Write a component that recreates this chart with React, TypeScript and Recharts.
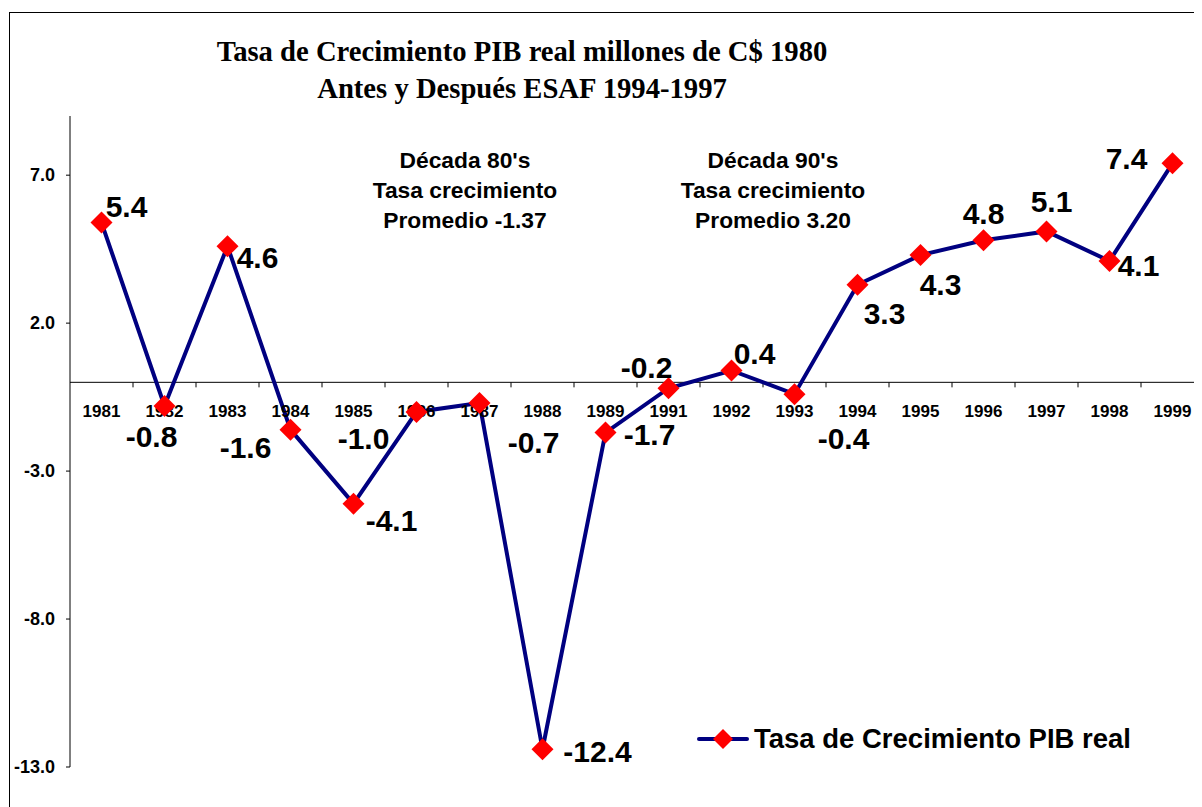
import React from 'react';
import { LineChart, Line, XAxis, YAxis, ReferenceLine, ReferenceDot, LabelList, Legend } from 'recharts';

const years = ['1981', '1982', '1983', '1984', '1985', '1986', '1987', '1988', '1989', '1991', '1992', '1993', '1994', '1995', '1996', '1997', '1998', '1999'];
const growth = [5.4, -0.8, 4.6, -1.6, -4.1, -1.0, -0.7, -12.4, -1.7, -0.2, 0.4, -0.4, 3.3, 4.3, 4.8, 5.1, 4.1, 7.4];
const yTicks = [-13, -8, -3, 2, 7];
const seriesName = 'Tasa de Crecimiento PIB real';
const titleLines = ['Tasa de Crecimiento PIB real millones de C$ 1980', 'Antes y Después ESAF 1994-1997'];
const note80 = ["Década 80's", 'Tasa crecimiento', 'Promedio -1.37'];
const note90 = ["Década 90's", 'Tasa crecimiento', 'Promedio 3.20'];

// label placement (style only): offset of each data label from its point
const labelOffsets: [number, number][] = [
  [25, -16], [-13, 31], [30, 11], [-45, 18], [38, 17], [-53, 27], [54, 39], [55, 2], [44, 2],
  [-22, -21], [23, -17], [49, 44], [27, 29], [20, 29], [0, -27], [5, -30], [29, 5], [-46, -5],
];

const data = years.map((year, i) => ({ idx: i, year, value: growth[i] }));

const SANS = '"Liberation Sans", Arial, sans-serif';
const SERIF = '"Liberation Serif", "Times New Roman", serif';

const diamondPath = (cx: number, cy: number, r: number) =>
  `M${cx},${cy - r}L${cx + r},${cy}L${cx},${cy + r}L${cx - r},${cy}Z`;

const renderDot = (props: any) => {
  const { cx, cy, index } = props;
  if (cx == null || cy == null) return <g key={`d${index}`} />;
  return <path key={`d${index}`} d={diamondPath(cx, cy, 11)} fill="#FF0000" />;
};

const DataLabel = (props: any) => {
  const { x, y, value, index } = props;
  const [dx, dy] = labelOffsets[index] || [0, 0];
  return (
    <text x={x + dx} y={y + dy} textAnchor="middle" dominantBaseline="central"
      fontFamily={SANS} fontWeight="bold" fontSize={30} fill="#000">
      {Number(value).toFixed(1)}
    </text>
  );
};

const YTick = (props: any) => {
  const { x, y, payload } = props;
  return (
    <text x={x} y={y} textAnchor="end" dominantBaseline="central"
      fontFamily={SANS} fontWeight="bold" fontSize={18} fill="#000">
      {Number(payload.value).toFixed(1)}
    </text>
  );
};

const LegendContent = () => (
  <div style={{ display: 'flex', alignItems: 'center', fontFamily: SANS, fontWeight: 'bold', fontSize: 27.5, color: '#000', whiteSpace: 'nowrap' }}>
    <svg width={54} height={26} style={{ display: 'block' }}>
      <line x1={3} y1={13} x2={51} y2={13} stroke="#000080" strokeWidth={4} strokeLinecap="round" />
      <path d={diamondPath(27, 13, 10)} fill="#FF0000" />
    </svg>
    <span style={{ marginLeft: 4, lineHeight: '34px' }}>{seriesName}</span>
  </div>
);

const NoteBlock = ({ lines, cx }: { lines: string[]; cx: number }) => (
  <div style={{ position: 'absolute', left: cx - 150, top: 137, width: 300, textAlign: 'center', fontFamily: SANS, fontWeight: 'bold', fontSize: 22.8, lineHeight: '30px', color: '#000' }}>
    {lines.map((l) => <div key={l}>{l}</div>)}
  </div>
);

export default function App() {
  return (
    <div style={{ position: 'relative', width: 1194, height: 799, overflow: 'hidden', background: '#fff' }}>
      <div style={{ position: 'absolute', left: 1, top: 4, width: 1400, height: 1000, border: '1px solid #000', pointerEvents: 'none' }} />
      <div style={{ position: 'absolute', left: 114, top: 24, width: 800, textAlign: 'center', fontFamily: SERIF, fontWeight: 'bold', fontSize: 30, lineHeight: '37px', color: '#000', transform: 'scaleX(0.955)', transformOrigin: '400px 0' }}>
        {titleLines.map((l) => <div key={l}>{l}</div>)}
      </div>
      <NoteBlock lines={note80} cx={457} />
      <NoteBlock lines={note90} cx={765} />
      <LineChart width={1200} height={799} data={data} margin={{ top: 108, right: 4, bottom: 40, left: 2 }}>
        <XAxis type="number" dataKey="idx" domain={[-0.5, 17.5]} hide allowDataOverflow />
        <YAxis
          domain={[-13, 9]}
          ticks={yTicks}
          interval={0}
          width={60}
          tickSize={4}
          tickMargin={11}
          axisLine={{ stroke: '#000', strokeWidth: 1 }}
          tickLine={{ stroke: '#000', strokeWidth: 1 }}
          tick={<YTick />}
          allowDataOverflow
        />
        <ReferenceLine y={0} stroke="#000" strokeWidth={1} ifOverflow="visible" />
        {years.map((yr, i) => (
          <ReferenceLine key={`t${yr}`} segment={[{ x: i + 0.5, y: 0 }, { x: i + 0.5, y: -0.17 }]} stroke="#000" strokeWidth={1} ifOverflow="visible" />
        ))}
        {years.map((yr, i) => (
          <ReferenceDot key={`y${yr}`} x={i} y={0} r={0} ifOverflow="visible"
            shape={(p: any) => (
              <text x={p.cx} y={p.cy + 29} textAnchor="middle" dominantBaseline="central"
                fontFamily={SANS} fontWeight="bold" fontSize={17} fill="#000">{yr}</text>
            )}
          />
        ))}
        <Legend
          verticalAlign="middle"
          layout="horizontal"
          content={<LegendContent />}
          wrapperStyle={{ position: 'absolute', left: 688, top: 714, width: 500, height: 34 }}
        />
        <Line
          name={seriesName}
          type="linear"
          dataKey="value"
          stroke="#000080"
          strokeWidth={4}
          dot={renderDot}
          activeDot={false}
          isAnimationActive={false}
        >
          <LabelList dataKey="value" content={<DataLabel />} />
        </Line>
      </LineChart>
    </div>
  );
}
